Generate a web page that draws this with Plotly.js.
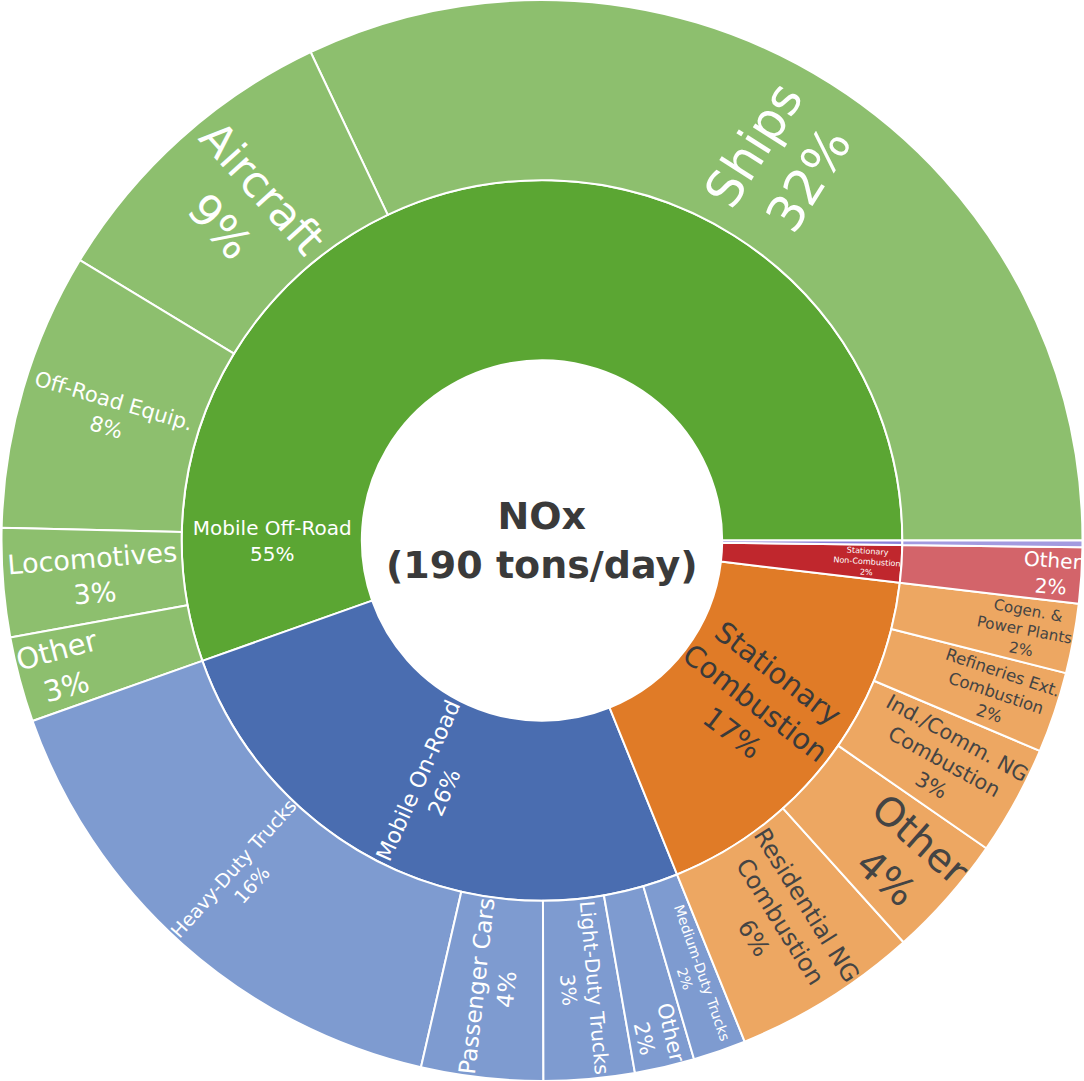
<!DOCTYPE html>
<html>
<head>
<meta charset="utf-8">
<script src="https://cdn.plot.ly/plotly-3.0.1.min.js"></script>
<style>html,body{margin:0;padding:0;background:#fff;}#chart{width:1084px;height:1081px;}</style>
</head>
<body>
<div id="chart"></div>
<script>
// Sector ids, labels and parents
var ids = ['root',
  'offroad','onroad','statcomb','statnon','area',
  'ships','aircraft','equip','loco','offother',
  'hdt','pc','ldt','onother','mdt',
  'res','statother','ind','ref','cogen',
  'nonother','areachild'];
var labels = ['NOx',
  'Mobile Off-Road','Mobile On-Road','Stationary<br>Combustion','Stationary<br>Non-Combustion','Area Sources',
  'Ships','Aircraft','Off-Road Equip.','Locomotives','Other',
  'Heavy-Duty Trucks','Passenger Cars','Light-Duty Trucks','Other','Medium-Duty Trucks',
  'Residential NG<br>Combustion','Other','Ind./Comm. NG<br>Combustion','Refineries Ext.<br>Combustion','Cogen. &<br>Power Plants',
  'Other',''];
var parents = ['',
  'root','root','root','root','root',
  'offroad','offroad','offroad','offroad','offroad',
  'onroad','onroad','onroad','onroad','onroad',
  'statcomb','statcomb','statcomb','statcomb','statcomb',
  'statnon','area'];
// Share of total NOx (%); parents are the sum of their children
var values = [0,
  0,0,0,0,0,
  32.07,9.29,8.31,3.25,2.55,
  16.0,3.64,2.71,1.79,1.58,
  5.55,3.7,3.28,2.42,2.08,
  1.67,0.2];
var centerTitle = 'NOx<br>(190 tons/day)';

// Styles
var colors = ['#ffffff',
  '#5ba633','#4a6db0','#e07b27','#c0272d','#8b80d8',
  '#8dbf6e','#8dbf6e','#8dbf6e','#8dbf6e','#8dbf6e',
  '#7e9bd0','#7e9bd0','#7e9bd0','#7e9bd0','#7e9bd0',
  '#eda762','#eda762','#eda762','#eda762','#eda762',
  '#d3646a','#a39be0'];
var textColors = ['#3a3a3a',
  '#ffffff','#ffffff','#3a3a3a','#ffffff','#ffffff',
  '#ffffff','#ffffff','#ffffff','#ffffff','#ffffff',
  '#ffffff','#ffffff','#ffffff','#ffffff','#ffffff',
  '#444444','#444444','#444444','#444444','#444444',
  '#ffffff','#ffffff'];
var textSizes = [36,
  20,22,35,9,8,
  50,44,21,27,29,
  19,24,20,21,14,
  25,46,22,20,17,
  28,8];
var templates = ids.map(function(id){
  if (id === 'root' || id === 'area' || id === 'areachild') return '';
  return '%{label}<br>%{percentRoot:.0%}';
});

var trace = {
  type: 'sunburst',
  ids: ids,
  labels: labels,
  parents: parents,
  values: values,
  branchvalues: 'remainder',
  sort: true,
  texttemplate: templates,
  hoverinfo: 'label+percent root',
  insidetextorientation: 'radial',
  insidetextfont: {family: 'Verdana, "DejaVu Sans", sans-serif', size: textSizes, color: textColors},
  leaf: {opacity: 1},
  marker: {colors: colors, line: {color: '#ffffff', width: 2}}
};

var layout = {
  width: 1084,
  height: 1081,
  margin: {l: 0, r: 0, t: 0, b: 0},
  paper_bgcolor: '#ffffff',
  showlegend: false,
  annotations: [{
    text: '<b>' + centerTitle + '</b>',
    x: 0.5, y: 0.5, xref: 'paper', yref: 'paper',
    xanchor: 'center', yanchor: 'middle', showarrow: false,
    font: {family: 'Verdana, "DejaVu Sans", sans-serif', size: 38, color: '#3a3a3a'}
  }]
};

Plotly.newPlot('chart', [trace], layout, {displayModeBar: false, staticPlot: true});
</script>
</body>
</html>
